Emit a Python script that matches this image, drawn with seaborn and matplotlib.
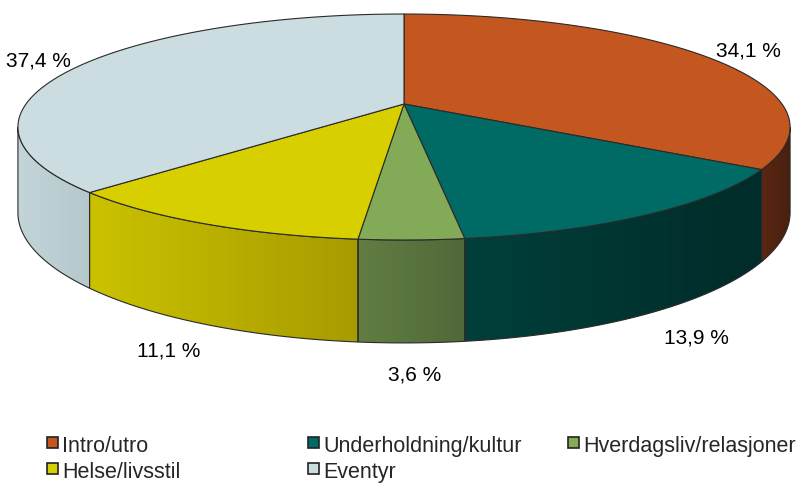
#############################
#   Imports and Constants
#############################

import numpy as np
import seaborn as sns
import matplotlib.pyplot as plt
from matplotlib.patches import Polygon, Rectangle
from matplotlib.colors import LinearSegmentedColormap

# chart data
categories = ['Intro/utro', 'Underholdning/kultur', 'Hverdagsliv/relasjoner',
              'Helse/livsstil', 'Eventyr']
shares = [34.1, 13.9, 3.6, 11.1, 37.4]
share_labels = ['34,1 %', '13,9 %', '3,6 %', '11,1 %', '37,4 %']

# colours: top face, side face (left / right end of the shading)
top_colors = ['#C4561F', '#006A64', '#83AA57', '#D8CF00', '#CBDDE0']
side_left = ['#5A2712', '#003F3B', '#627E42', '#CAC200', '#C3D5D8']
side_right = ['#47200F', '#002C29', '#50683A', '#A79B00', '#B5C8CB']

# projection of the tilted pie (pixel space)
CX, CY = 404, 105
A, B, K, D = 378, 108.3, 0.2035, 82
EDGE = '#2a2a2a'


def project(theta, r=1.0, z=0.0):
    u = r * np.sin(theta)
    v = -r * np.cos(theta)
    w = 1 - K * v
    return CX + A * u / w, CY + (B * v + D * z) / w


def arc(t0, t1, z=0.0, n=120):
    t = np.linspace(t0, t1, n)
    x, y = project(t, 1.0, z)
    return np.column_stack([x, y])


#############################
#           Plot
#############################

sns.set_theme(style="white")
plt.rcParams['font.family'] = ['Liberation Sans', 'DejaVu Sans']
palette = sns.color_palette(top_colors)

fig = plt.figure(figsize=(8.02, 4.89), dpi=100)
ax = fig.add_axes([0, 0, 1, 1])

bounds = np.concatenate([[0], np.cumsum(shares)]) / sum(shares) * 2 * np.pi
sil_r = np.arccos(-K)
sil_l = 2 * np.pi - sil_r

# side walls (only the part facing the viewer)
for i in range(len(shares)):
    t0 = max(bounds[i], sil_r)
    t1 = min(bounds[i + 1], sil_l)
    if t1 <= t0:
        continue
    pts = np.vstack([arc(t0, t1, 0), arc(t1, t0, 1)])
    poly = Polygon(pts, closed=True, facecolor='none', edgecolor=EDGE,
                   linewidth=0.8, zorder=3)
    ax.add_patch(poly)
    cmap = LinearSegmentedColormap.from_list('s%d' % i, [side_left[i], side_right[i]])
    xmin, xmax = pts[:, 0].min(), pts[:, 0].max()
    ymin, ymax = pts[:, 1].min(), pts[:, 1].max()
    grad = np.linspace(0, 1, 256).reshape(1, -1)
    im = ax.imshow(grad, extent=[xmin, xmax, ymax, ymin], cmap=cmap,
                   aspect='auto', interpolation='bilinear', zorder=2)
    im.set_clip_path(poly)

# top faces
for i in range(len(shares)):
    pts = np.vstack([[project(0, 0.0)], arc(bounds[i], bounds[i + 1], 0)])
    ax.add_patch(Polygon(pts, closed=True, facecolor=palette[i], edgecolor=EDGE,
                         linewidth=0.8, zorder=4))

# percentage labels
for i, lab in enumerate(share_labels):
    mid = (bounds[i] + bounds[i + 1]) / 2
    z = 1.0 if np.cos(mid) < 0 else 0.0
    x, y = project(mid, 1.15, z)
    ax.text(x + 2, y, lab, ha='center', va='center', fontsize=15, color='black', zorder=6)

# legend
col_x = [47, 308, 568]
row_y = [438, 464]
for i, cat in enumerate(categories):
    x = col_x[i % 3]
    y = row_y[i // 3]
    ax.add_patch(Rectangle((x, y), 11, 11, facecolor=palette[i], edgecolor='#222222',
                           linewidth=1.2, zorder=6))
    ax.text(x + 15.5, y + 14, cat, ha='left', va='baseline', fontsize=15.5, zorder=6)

ax.set_xlim(0, 802)
ax.set_ylim(489, 0)
ax.axis('off')

plt.savefig('out.png', dpi=100, facecolor='white')
